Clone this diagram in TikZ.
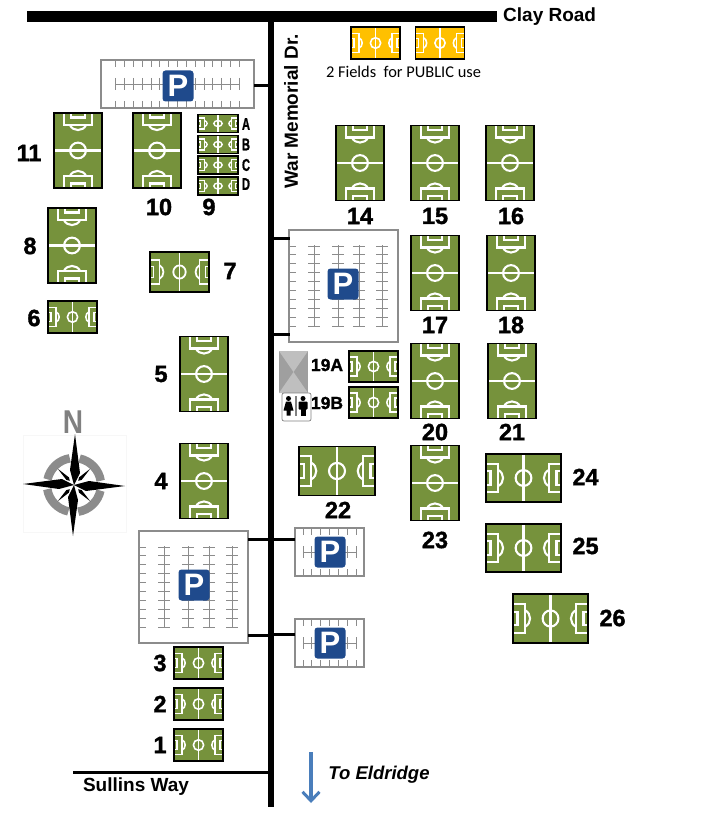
\documentclass[tikz,border=0pt]{standalone}
\usepackage{fontspec}
\setmainfont{Liberation Sans}
\newfontfamily\carlito{Carlito}
\newfontfamily\heavy{Liberation Sans}[BoldFeatures={FakeBold=1.5}]
\usetikzlibrary{arrows.meta}
\definecolor{pitchgreen}{HTML}{76923C}
\definecolor{publicyellow}{HTML}{FFC000}
\definecolor{signblue}{HTML}{1F4A8C}
\definecolor{lotgray}{HTML}{8C8C8C}
\definecolor{arrowblue}{HTML}{4A7EBB}
\newcommand{\pitchlines}{
\draw (-1,-.6) -- (-.68,-.6) -- (-.68,.6) -- (-1,.6);
\draw (1,-.6) -- (.68,-.6) -- (.68,.6) -- (1,.6);
\draw (-1,-.28) -- (-.88,-.28) -- (-.88,.28) -- (-1,.28);
\draw (1,-.28) -- (.88,-.28) -- (.88,.28) -- (1,.28);
\draw (-.68,-.34) .. controls (-.5,-.2) and (-.5,.2) .. (-.68,.34);
\draw (.68,-.34) .. controls (.5,-.2) and (.5,.2) .. (.68,.34);
\draw (0,-1) -- (0,1);
\draw (0,0) circle [x radius=.21,y radius=.33];
}
\tikzset{
x=1pt,y=-1pt,
pitch/.style={draw=black,fill=pitchgreen,line width=1.5pt,inner sep=0,outer sep=0},
hpitch/.style 2 args={pitch,minimum width=#1pt,minimum height=#2pt,
path picture={\begin{scope}[shift={(path picture bounding box.center)},x={(#1/2*1pt,0pt)},y={(0pt,#2/2*1pt)},white,line width=.6pt+.02pt*#1]\pitchlines\end{scope}}},
vpitch/.style 2 args={pitch,minimum width=#1pt,minimum height=#2pt,
path picture={\begin{scope}[shift={(path picture bounding box.center)},x={(0pt,#2/2*1pt)},y={(#1/2*1pt,0pt)},white,line width=.6pt+.02pt*#2]\pitchlines\end{scope}}},
comblot/.style 2 args={draw=lotgray,line width=1.5pt,fill=white,inner sep=0,outer sep=0,minimum width=#1pt,minimum height=48pt,
path picture={\begin{scope}[shift={(path picture bounding box.center)},lotgray,line width=.9pt]
\draw (-#2*8.85,0) -- (#2*8.85,0);
\foreach \i in {-#2,...,#2}{
\draw (\i*8.85,-24) -- (\i*8.85,-17);
\draw (\i*8.85,-6) -- (\i*8.85,6);
\draw (\i*8.85,17) -- (\i*8.85,24);
}
\end{scope}}},
biglot/.style={draw=lotgray,line width=1.5pt,fill=white,inner sep=0,outer sep=0,minimum width=109pt,minimum height=112pt,
path picture={\begin{scope}[shift={(path picture bounding box.center)},lotgray,line width=.9pt]
\foreach \t in {0,...,9}{
\draw (-54.5,-40+\t*8.9) -- (-47.5,-40+\t*8.9);
}
\foreach \c in {-29.5,-5.5,15.5,38.5}{
\draw (\c,-41) -- (\c,41);
\foreach \t in {0,...,9}{
\draw (\c-6,-40+\t*8.9) -- (\c+6,-40+\t*8.9);
}
}
\end{scope}}},
psign/.style={fill=signblue,rounded corners=3pt,minimum size=31pt,inner sep=0,text=white,font=\fontsize{31}{31}\selectfont\bfseries},
num/.style={inner sep=0,font=\heavy\fontsize{23.5}{24}\selectfont\bfseries},
roadname/.style={inner sep=0,font=\fontsize{19}{19}\selectfont\bfseries},
letter/.style={inner sep=0,font=\heavy\fontsize{17}{17}\selectfont\bfseries},
subfield/.style={inner sep=0,font=\heavy\fontsize{17.5}{18}\selectfont\bfseries},
road/.style={line width=#1pt,black},
stub/.style={line width=3pt,black}
}
\begin{document}
\begin{tikzpicture}
\useasboundingbox (0,0) rectangle (712,826);
\coordinate (clayW) at (27,16.5);
\coordinate (clayE) at (497,16.5);
\coordinate (warN) at (271,16.5);
\coordinate (warS) at (271,807);
\coordinate (sullW) at (73,772);
\coordinate (sullE) at (271,772);
\draw[road=10.5] (clayW) -- (clayE);
\draw[road=6.5] (warN) -- (warS);
\draw[road=3] (sullW) -- (sullE);

\node[comblot={153}{7}] (lotN) at (177.5,84) {};
\node[biglot] (lotE) at (343.5,286) {};
\node[biglot] (lotW) at (193.5,587) {};
\node[comblot={69}{3}] (lotA) at (329.5,552) {};
\node[comblot={69}{3}] (lotB) at (329.5,643) {};
\node[psign] (pN) at (178,86) {P};
\node[psign] (pE) at (343,284) {P};
\node[psign] (pW) at (194,585) {P};
\node[psign] (pA) at (330,552) {P};
\node[psign] (pB) at (330,643) {P};

\coordinate (s1) at (254,86);
\coordinate (s2) at (289.5,238);
\coordinate (s3) at (289.5,334);
\coordinate (s4) at (248,539);
\coordinate (s5) at (248,635);
\coordinate (s6) at (295,539);
\coordinate (s7) at (295,634);
\draw[stub] (s1) -- (s1 -| warN);
\draw[stub] (s2) -- (s2 -| warN);
\draw[stub] (s3) -- (s3 -| warN);
\draw[stub] (s4) -- (s4 -| warN);
\draw[stub] (s5) -- (s5 -| warN);
\draw[stub] (s6) -- (s6 -| warN);
\draw[stub] (s7) -- (s7 -| warN);

\node[hpitch={49}{32},fill=publicyellow] (pa) at (375.5,43) {};
\node[hpitch={49}{32},fill=publicyellow] (pb) at (440,43) {};

\node[vpitch={48}{75}] (f11) at (78,150.5) {};
\node[vpitch={48}{75}] (f10) at (157,150.5) {};
\node[hpitch={40}{18}] (f9a) at (218,123.5) {};
\node[hpitch={40}{18}] (f9b) at (218,144.5) {};
\node[hpitch={40}{18}] (f9c) at (218,165) {};
\node[hpitch={40}{18}] (f9d) at (218,186) {};
\node[vpitch={48}{75}] (f8) at (72,245.5) {};
\node[hpitch={59}{40}] (f7) at (179.5,272) {};
\node[hpitch={49}{32}] (f6) at (72.5,317) {};
\node[vpitch={48}{75}] (f5) at (204,374) {};
\node[vpitch={48}{75}] (f4) at (204,481) {};
\node[hpitch={49}{32}] (f3) at (198.5,663) {};
\node[hpitch={49}{32}] (f2) at (198.5,704) {};
\node[hpitch={49}{32}] (f1) at (198.5,745) {};
\node[vpitch={48}{75}] (f14) at (360,163) {};
\node[vpitch={48}{75}] (f15) at (435,163) {};
\node[vpitch={48}{75}] (f16) at (510,163) {};
\node[vpitch={48}{75}] (f17) at (435,273) {};
\node[vpitch={48}{75}] (f18) at (511,273) {};
\node[hpitch={49}{31}] (f19a) at (373.5,366.5) {};
\node[hpitch={49}{31}] (f19b) at (373.5,402.5) {};
\node[vpitch={48}{75}] (f20) at (435,381) {};
\node[vpitch={48}{75}] (f21) at (512,381) {};
\node[hpitch={76}{49}] (f22) at (337,471) {};
\node[vpitch={48}{75}] (f23) at (435,483) {};
\node[hpitch={75}{48}] (f24) at (523.5,478) {};
\node[hpitch={75}{48}] (f25) at (523.5,548) {};
\node[hpitch={75}{49}] (f26) at (550.5,618.5) {};

\node[num] (l11) at (29,153) {11};
\node[num] (l10) at (159,207) {10};
\node[num] (l9) at (209,207) {9};
\node[num] (l8) at (30,246) {8};
\node[num] (l7) at (230,271) {7};
\node[num] (l6) at (34,318) {6};
\node[num] (l5) at (161,374) {5};
\node[num] (l4) at (161,481) {4};
\node[num] (l3) at (160,663) {3};
\node[num] (l2) at (160,704) {2};
\node[num] (l1) at (160,745) {1};
\node[num] (l14) at (360,216) {14};
\node[num] (l15) at (435,216) {15};
\node[num] (l16) at (511,216) {16};
\node[num] (l17) at (435,325) {17};
\node[num] (l18) at (511,325) {18};
\node[num] (l20) at (435,432) {20};
\node[num] (l21) at (512,432) {21};
\node[num] (l22) at (338,510) {22};
\node[num] (l23) at (435,540) {23};
\node[num] (l24) at (585.5,477) {24};
\node[num] (l25) at (585.5,546) {25};
\node[num] (l26) at (612.5,618) {26};
\node[subfield] (l19a) at (327,365) {19A};
\node[subfield] (l19b) at (327,403) {19B};
\node[letter] (la) at (246,124) {\scalebox{.65}[1]{A}};
\node[letter] (lb) at (246,144.5) {\scalebox{.65}[1]{B}};
\node[letter] (lc) at (246,165) {\scalebox{.65}[1]{C}};
\node[letter] (ld) at (246,184) {\scalebox{.65}[1]{D}};

\node[roadname,anchor=west] (clay) at (503,17) {Clay Road};
\node[roadname,rotate=90] (war) at (291,111.5) {War Memorial Dr.};
\node[roadname] (sullins) at (136,787) {Sullins Way};
\node[roadname,font=\fontsize{18.5}{19}\selectfont\bfseries\itshape] (eldridge) at (379,775) {To Eldridge};
\node[inner sep=0,font=\carlito\fontsize{16.4}{17}\selectfont] (public) at (403.5,72) {2 Fields\ \ for PUBLIC use};

\coordinate (arrowN) at (311,752);
\coordinate (arrowS) at (311,803);
\draw[arrowblue,line width=3.6pt,-{Straight Barb[length=9pt,width=17pt,line width=3pt]}] (arrowN) -- (arrowS);

\fill[gray!75] (279,351) rectangle (308,393);
\fill[gray!50] (279,351) -- (308,351) -- (293.5,372) -- cycle;
\fill[gray!50] (279,393) -- (308,393) -- (293.5,372) -- cycle;
\node[draw=gray,rounded corners=2pt,line width=.7pt,fill=white,inner sep=0,minimum width=29pt,minimum height=28pt] (wc) at (296.5,407) {};
\fill (288.5,398.5) circle (2.5);
\fill (286,401.5) -- (291,401.5) -- (293.5,410.5) -- (290.5,410.5) -- (290.5,415.5) -- (286.5,415.5) -- (286.5,410.5) -- (283.5,410.5) -- cycle;
\fill (303,398.5) circle (2.5);
\fill[rounded corners=.8pt] (298.5,401.5) rectangle (307.5,409.5);
\fill (300.5,408) rectangle (305.5,415.5);
\draw[gray,line width=1.2pt] (296,396) -- (296,415.5);

\node[draw=gray!6,line width=.5pt,inner sep=0,minimum width=103pt,minimum height=97pt] (compassbg) at (75,483.5) {};
\node[text=gray,inner sep=0,font=\fontsize{33}{33}\selectfont\bfseries] (north) at (73,422.5) {\scalebox{.85}[1]{N}};
\begin{scope}[shift={(74,485)},y=1pt]
\foreach \a in {0,90,180,270}{
\draw[lotgray,line width=8.5pt] (\a+9:27) arc [start angle=\a+9,end angle=\a+78,radius=27];
}
\foreach \a in {0,90,180,270}{
\fill[black,rotate=\a+45] (0,6) -- (1.8,9) -- (0,23) -- (-1.8,9) -- cycle;
\fill[black,rotate=\a] (0,0) -- (6,12) -- (1,51) -- (-4,15) -- cycle;
}
\end{scope}
\end{tikzpicture}
\end{document}
